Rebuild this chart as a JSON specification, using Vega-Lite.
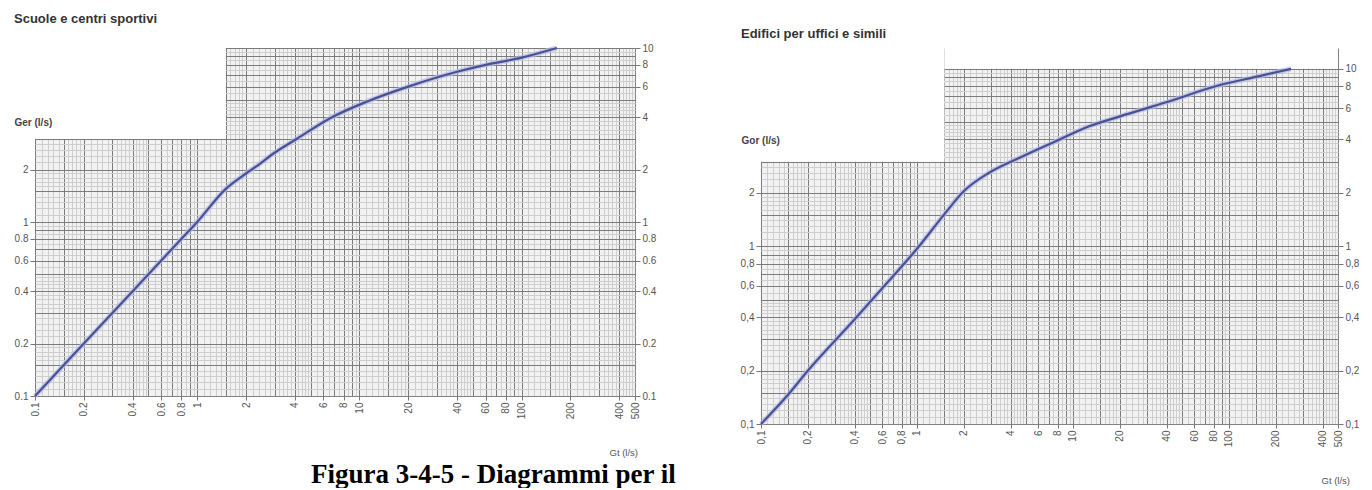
{
  "$schema": "https://vega.github.io/schema/vega-lite/v6.json",
  "background": "white",
  "padding": {"left": 14, "top": 13, "right": 0, "bottom": 0},
  "spacing": 84,
  "params": [
    {"name": "labx", "value": [0.1,0.2,0.4,0.6,0.8,1,2,4,6,8,10,20,40,60,80,100,200,400,500]},
    {"name": "majx", "value": [0.1,0.15,0.2,0.3,0.4,0.5,0.6,0.7,0.8,0.9,1,1.5,2,3,4,5,6,7,8,9,10,15,20,30,40,50,60,70,80,90,100,150,200,300,400,500]},
    {"name": "laby", "value": [0.1,0.2,0.4,0.6,0.8,1,2,4,6,8,10]}
  ],
  "title": {"text": "Figura 3-4-5 - Diagrammi per il", "orient": "bottom", "anchor": "start", "frame": "bounds", "dx": 297, "offset": -23, "font": "Liberation Serif", "fontSize": 27, "fontWeight": "bold", "color": "#000"},
  "datasets": {
    "curveL": [
      {"gt": 0.1, "gr": 0.1}, {"gt": 0.15, "gr": 0.15}, {"gt": 0.2, "gr": 0.2}, {"gt": 0.4, "gr": 0.4}, {"gt": 0.6, "gr": 0.6}, {"gt": 0.8, "gr": 0.8}, {"gt": 1, "gr": 1},
      {"gt": 1.5, "gr": 1.55}, {"gt": 2, "gr": 1.9}, {"gt": 2.3, "gr": 2.08}, {"gt": 3, "gr": 2.5}, {"gt": 4.1, "gr": 3.0}, {"gt": 6.6, "gr": 3.95},
      {"gt": 11, "gr": 4.9}, {"gt": 20, "gr": 6.0}, {"gt": 40, "gr": 7.3}, {"gt": 60, "gr": 8.0}, {"gt": 100, "gr": 8.8}, {"gt": 165, "gr": 10}
    ],
    "curveR": [
      {"gt": 0.1, "gr": 0.1}, {"gt": 0.15, "gr": 0.147}, {"gt": 0.2, "gr": 0.2}, {"gt": 0.4, "gr": 0.39}, {"gt": 0.65, "gr": 0.63}, {"gt": 1, "gr": 0.97},
      {"gt": 1.5, "gr": 1.52}, {"gt": 2, "gr": 2.05}, {"gt": 2.9, "gr": 2.6}, {"gt": 4.7, "gr": 3.2}, {"gt": 7.7, "gr": 3.9}, {"gt": 12.7, "gr": 4.75},
      {"gt": 20, "gr": 5.4}, {"gt": 40, "gr": 6.5}, {"gt": 83, "gr": 8.0}, {"gt": 157, "gr": 9.1}, {"gt": 250, "gr": 10}
    ],
    "bg": [
      {"x0": 0.1, "x1": 500, "y0": 0.1, "y1": 3},
      {"x0": 1.5, "x1": 500, "y0": 3, "y1": 10}
    ],
    "maskL": [
      {"x0": 0.1, "x1": 1.5, "y0": 3, "y1": 10}
    ],
    "maskR": [
      {"x0": 0.1, "x1": 1.5, "y0": 3, "y1": 13.1},
      {"x0": 1.5, "x1": 500, "y0": 10, "y1": 13.1}
    ]
  },
  "hconcat": [
    {
      "width": 600,
      "height": 348,
      "title": {"text": "Scuole e centri sportivi", "anchor": "start", "frame": "group", "dx": -21, "offset": 12, "font": "Liberation Sans", "fontSize": 13, "fontWeight": "bold", "color": "#333"},
      "layer": [
        {
          "data": {"name": "bg"},
          "mark": {"type": "rect", "fill": "#000", "fillOpacity": 0.05},
          "encoding": {
            "x": {"field": "x0", "type": "quantitative", "scale": {"type": "log", "domain": [0.1, 500], "nice": false},
              "axis": {"orient": "bottom",
                "values": [0.1,0.11,0.12,0.13,0.14,0.15,0.16,0.17,0.18,0.19,0.2,0.22,0.24,0.26,0.28,0.3,0.32,0.34,0.36,0.38,0.4,0.42,0.44,0.46,0.48,0.5,0.55,0.6,0.65,0.7,0.75,0.8,0.85,0.9,0.95,1,1.1,1.2,1.3,1.4,1.5,1.6,1.7,1.8,1.9,2,2.2,2.4,2.6,2.8,3,3.2,3.4,3.6,3.8,4,4.2,4.4,4.6,4.8,5,5.5,6,6.5,7,7.5,8,8.5,9,9.5,10,11,12,13,14,15,16,17,18,19,20,22,24,26,28,30,32,34,36,38,40,42,44,46,48,50,55,60,65,70,75,80,85,90,95,100,110,120,130,140,150,160,170,180,190,200,220,240,260,280,300,320,340,360,380,400,420,440,460,480,500],
                "grid": true,
                "gridColor": {"condition": {"test": "indexof(majx, datum.value) >= 0", "value": "#828282"}, "value": "#dadada"},
                "domain": false, "tickSize": 4, "tickColor": "#777",
                "tickOpacity": {"condition": {"test": "indexof(labx, datum.value) >= 0", "value": 1}, "value": 0},
                "labelExpr": "indexof(labx, datum.value) >= 0 ? format(datum.value, '~g') : ''",
                "labelAngle": 270, "labelFont": "Liberation Sans", "labelFontSize": 10, "labelColor": "#555", "labelOverlap": false, "labelFlush": false, "labelPadding": 2,
                "title": "Gt (l/s)", "titleX": 574, "titleY": 56, "titleLimit": 200, "titleAlign": "left", "titleBaseline": "middle", "titleAngle": 0, "titleFont": "Liberation Sans", "titleFontSize": 9.5, "titleFontWeight": "normal", "titleColor": "#555"}},
            "x2": {"field": "x1"},
            "y": {"field": "y0", "type": "quantitative", "scale": {"type": "log", "domain": [0.1, 10], "nice": false},
              "axis": {"orient": "right",
                "values": [0.1,0.11,0.12,0.13,0.14,0.15,0.16,0.17,0.18,0.19,0.2,0.22,0.24,0.26,0.28,0.3,0.32,0.34,0.36,0.38,0.4,0.42,0.44,0.46,0.48,0.5,0.55,0.6,0.65,0.7,0.75,0.8,0.85,0.9,0.95,1,1.1,1.2,1.3,1.4,1.5,1.6,1.7,1.8,1.9,2,2.2,2.4,2.6,2.8,3,3.2,3.4,3.6,3.8,4,4.2,4.4,4.6,4.8,5,5.5,6,6.5,7,7.5,8,8.5,9,9.5,10],
                "grid": true,
                "gridColor": {"condition": {"test": "indexof(majx, datum.value) >= 0", "value": "#828282"}, "value": "#dadada"},
                "domain": false, "tickSize": 5, "tickColor": "#777",
                "tickOpacity": {"condition": {"test": "indexof(laby, datum.value) >= 0", "value": 1}, "value": 0},
                "labelExpr": "indexof(laby, datum.value) >= 0 ? format(datum.value, '~g') : ''",
                "labelFont": "Liberation Sans", "labelFontSize": 10, "labelColor": "#555", "labelOverlap": false, "labelFlush": false, "labelPadding": 2,
                "title": null}},
            "y2": {"field": "y1"}
          }
        },
        {
          "data": {"name": "maskL"},
          "mark": {"type": "rect", "fill": "white"},
          "encoding": {
            "x": {"field": "x0", "type": "quantitative", "scale": {"type": "log", "domain": [0.1, 500], "nice": false}, "axis": null},
            "x2": {"field": "x1"},
            "y": {"field": "y0", "type": "quantitative", "scale": {"type": "log", "domain": [0.1, 10], "nice": false}, "axis": null},
            "y2": {"field": "y1"}
          }
        },
        {
          "data": {"name": "curveL"},
          "mark": {"type": "line", "color": "#b4bbe8", "strokeWidth": 5, "opacity": 0.7, "interpolate": "monotone"},
          "encoding": {
            "x": {"field": "gt", "type": "quantitative", "scale": {"type": "log", "domain": [0.1, 500], "nice": false}, "axis": null},
            "y": {"field": "gr", "type": "quantitative", "scale": {"type": "log", "domain": [0.1, 10], "nice": false}, "axis": null}
          }
        },
        {
          "data": {"name": "curveL"},
          "mark": {"type": "line", "color": "#4a5192", "strokeWidth": 2.2, "interpolate": "monotone"},
          "encoding": {
            "x": {"field": "gt", "type": "quantitative", "scale": {"type": "log", "domain": [0.1, 500], "nice": false}, "axis": null},
            "y": {"field": "gr", "type": "quantitative", "scale": {"type": "log", "domain": [0.1, 10], "nice": false},
              "axis": {"orient": "left", "zindex": 1, "values": [0.1,0.2,0.4,0.6,0.8,1,2], "grid": false, "domain": false, "tickSize": 5, "tickColor": "#777",
                "labelExpr": "format(datum.value, '~g')", "labelFont": "Liberation Sans", "labelFontSize": 10, "labelColor": "#555", "labelPadding": 2, "labelFlush": false, "labelOverlap": false,
                "title": "Ger (l/s)", "titleLimit": 200, "titleAngle": 0, "titleX": -21, "titleY": 74, "titleAlign": "left", "titleBaseline": "middle", "titleFont": "Liberation Sans", "titleFontSize": 10, "titleFontWeight": "bold", "titleColor": "#444"}}
          }
        }
      ],
      "resolve": {"axis": {"x": "independent", "y": "independent"}}
    },
    {
      "width": 577,
      "height": 376,
      "title": {"text": "Edifici per uffici e simili", "anchor": "start", "frame": "group", "dx": -20, "offset": 7, "font": "Liberation Sans", "fontSize": 13, "fontWeight": "bold", "color": "#333"},
      "layer": [
        {
          "data": {"name": "bg"},
          "mark": {"type": "rect", "fill": "#000", "fillOpacity": 0.05},
          "encoding": {
            "x": {"field": "x0", "type": "quantitative", "scale": {"type": "log", "domain": [0.1, 500], "nice": false},
              "axis": {"orient": "bottom",
                "values": [0.1,0.11,0.12,0.13,0.14,0.15,0.16,0.17,0.18,0.19,0.2,0.22,0.24,0.26,0.28,0.3,0.32,0.34,0.36,0.38,0.4,0.42,0.44,0.46,0.48,0.5,0.55,0.6,0.65,0.7,0.75,0.8,0.85,0.9,0.95,1,1.1,1.2,1.3,1.4,1.5,1.6,1.7,1.8,1.9,2,2.2,2.4,2.6,2.8,3,3.2,3.4,3.6,3.8,4,4.2,4.4,4.6,4.8,5,5.5,6,6.5,7,7.5,8,8.5,9,9.5,10,11,12,13,14,15,16,17,18,19,20,22,24,26,28,30,32,34,36,38,40,42,44,46,48,50,55,60,65,70,75,80,85,90,95,100,110,120,130,140,150,160,170,180,190,200,220,240,260,280,300,320,340,360,380,400,420,440,460,480,500],
                "grid": true,
                "gridColor": {"condition": {"test": "indexof(majx, datum.value) >= 0", "value": "#828282"}, "value": "#dadada"},
                "domain": false, "tickSize": 4, "tickColor": "#777",
                "tickOpacity": {"condition": {"test": "indexof(labx, datum.value) >= 0", "value": 1}, "value": 0},
                "labelExpr": "indexof(labx, datum.value) >= 0 ? replace(format(datum.value, '~g'), '.', ',') : ''",
                "labelAngle": 270, "labelFont": "Liberation Sans", "labelFontSize": 10, "labelColor": "#555", "labelOverlap": false, "labelFlush": false, "labelPadding": 2,
                "title": "Gt (l/s)", "titleX": 560, "titleY": 56, "titleLimit": 200, "titleAlign": "left", "titleBaseline": "middle", "titleAngle": 0, "titleFont": "Liberation Sans", "titleFontSize": 9.5, "titleFontWeight": "normal", "titleColor": "#555"}},
            "x2": {"field": "x1"},
            "y": {"field": "y0", "type": "quantitative", "scale": {"type": "log", "domain": [0.1, 13.1], "nice": false},
              "axis": {"orient": "right",
                "values": [0.1,0.11,0.12,0.13,0.14,0.15,0.16,0.17,0.18,0.19,0.2,0.22,0.24,0.26,0.28,0.3,0.32,0.34,0.36,0.38,0.4,0.42,0.44,0.46,0.48,0.5,0.55,0.6,0.65,0.7,0.75,0.8,0.85,0.9,0.95,1,1.1,1.2,1.3,1.4,1.5,1.6,1.7,1.8,1.9,2,2.2,2.4,2.6,2.8,3,3.2,3.4,3.6,3.8,4,4.2,4.4,4.6,4.8,5,5.5,6,6.5,7,7.5,8,8.5,9,9.5,10],
                "grid": true,
                "gridColor": {"condition": {"test": "indexof(majx, datum.value) >= 0", "value": "#828282"}, "value": "#dadada"},
                "domain": false, "tickSize": 5, "tickColor": "#777",
                "tickOpacity": {"condition": {"test": "indexof(laby, datum.value) >= 0", "value": 1}, "value": 0},
                "labelExpr": "indexof(laby, datum.value) >= 0 ? replace(format(datum.value, '~g'), '.', ',') : ''",
                "labelFont": "Liberation Sans", "labelFontSize": 10, "labelColor": "#555", "labelOverlap": false, "labelFlush": false, "labelPadding": 2,
                "title": null}},
            "y2": {"field": "y1"}
          }
        },
        {
          "data": {"name": "maskR"},
          "mark": {"type": "rect", "fill": "white"},
          "encoding": {
            "x": {"field": "x0", "type": "quantitative", "scale": {"type": "log", "domain": [0.1, 500], "nice": false}, "axis": null},
            "x2": {"field": "x1"},
            "y": {"field": "y0", "type": "quantitative", "scale": {"type": "log", "domain": [0.1, 13.1], "nice": false}, "axis": null},
            "y2": {"field": "y1"}
          }
        },
        {
          "data": {"name": "curveR"},
          "mark": {"type": "line", "color": "#b4bbe8", "strokeWidth": 5, "opacity": 0.7, "interpolate": "monotone"},
          "encoding": {
            "x": {"field": "gt", "type": "quantitative", "scale": {"type": "log", "domain": [0.1, 500], "nice": false}, "axis": null},
            "y": {"field": "gr", "type": "quantitative", "scale": {"type": "log", "domain": [0.1, 13.1], "nice": false}, "axis": null}
          }
        },
        {
          "data": {"name": "curveR"},
          "mark": {"type": "line", "color": "#4a5192", "strokeWidth": 2.2, "interpolate": "monotone"},
          "encoding": {
            "x": {"field": "gt", "type": "quantitative", "scale": {"type": "log", "domain": [0.1, 500], "nice": false}, "axis": null},
            "y": {"field": "gr", "type": "quantitative", "scale": {"type": "log", "domain": [0.1, 13.1], "nice": false},
              "axis": {"orient": "left", "zindex": 1, "values": [0.1,0.2,0.4,0.6,0.8,1,2], "grid": false, "domain": false, "tickSize": 5, "tickColor": "#777",
                "labelExpr": "replace(format(datum.value, '~g'), '.', ',')", "labelFont": "Liberation Sans", "labelFontSize": 10, "labelColor": "#555", "labelPadding": 2, "labelFlush": false, "labelOverlap": false,
                "title": "Gor (l/s)", "titleLimit": 200, "titleAngle": 0, "titleX": -20, "titleY": 92, "titleAlign": "left", "titleBaseline": "middle", "titleFont": "Liberation Sans", "titleFontSize": 10, "titleFontWeight": "bold", "titleColor": "#444"}}
          }
        }
      ],
      "resolve": {"axis": {"x": "independent", "y": "independent"}}
    }
  ],
  "config": {"view": {"stroke": null}}
}
